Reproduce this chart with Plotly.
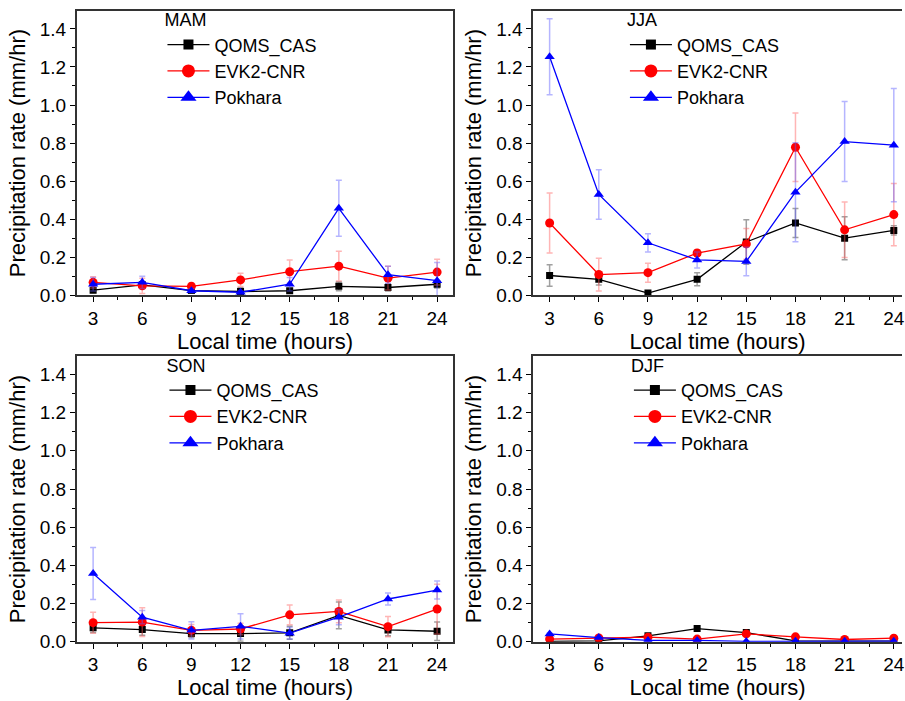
import plotly.graph_objects as go

hours = [3, 6, 9, 12, 15, 18, 21, 24]
x_ticks = [3, 6, 9, 12, 15, 18, 21, 24]
y_ticks = [0.0, 0.2, 0.4, 0.6, 0.8, 1.0, 1.2, 1.4]
y_tick_labels = ["0.0", "0.2", "0.4", "0.6", "0.8", "1.0", "1.2", "1.4"]
station_names = ["QOMS_CAS", "EVK2-CNR", "Pokhara"]
seasons = ["MAM", "JJA", "SON", "DJF"]

# MAM
mam_qoms = [0.027, 0.055, 0.025, 0.020, 0.024, 0.047, 0.041, 0.058]
mam_qoms_err = [0.012, 0.015, 0.010, 0.020, 0.010, 0.023, 0.018, 0.020]
mam_evk2 = [0.068, 0.050, 0.047, 0.081, 0.124, 0.153, 0.090, 0.122]
mam_evk2_err = [0.030, 0.040, 0.018, 0.035, 0.062, 0.078, 0.062, 0.068]
mam_pokh = [0.058, 0.068, 0.024, 0.016, 0.058, 0.457, 0.108, 0.077]
mam_pokh_err = [0.035, 0.032, 0.010, 0.008, 0.035, 0.147, 0.045, 0.095]

# JJA
jja_qoms = [0.104, 0.084, 0.012, 0.084, 0.280, 0.380, 0.300, 0.341]
jja_qoms_err = [0.056, 0.030, 0.008, 0.034, 0.117, 0.076, 0.113, 0.024]
jja_evk2 = [0.380, 0.109, 0.119, 0.222, 0.270, 0.778, 0.344, 0.424]
jja_evk2_err = [0.158, 0.086, 0.050, 0.018, 0.081, 0.180, 0.146, 0.164]
jja_pokh = [1.254, 0.530, 0.276, 0.186, 0.178, 0.542, 0.808, 0.789]
jja_pokh_err = [0.200, 0.130, 0.048, 0.042, 0.075, 0.260, 0.210, 0.298]

# SON
son_qoms = [0.073, 0.064, 0.043, 0.043, 0.047, 0.138, 0.062, 0.055]
son_qoms_err = [0.025, 0.030, 0.020, 0.040, 0.034, 0.070, 0.030, 0.048]
son_evk2 = [0.100, 0.103, 0.060, 0.067, 0.141, 0.159, 0.079, 0.171]
son_evk2_err = [0.055, 0.075, 0.030, 0.030, 0.052, 0.060, 0.053, 0.130]
son_pokh = [0.358, 0.129, 0.060, 0.081, 0.045, 0.129, 0.224, 0.271]
son_pokh_err = [0.136, 0.035, 0.045, 0.066, 0.030, 0.040, 0.032, 0.047]

# DJF
djf_qoms = [0.002, 0.005, 0.031, 0.069, 0.048, 0.005, 0.003, 0.003]
djf_qoms_err = [0.002, 0.003, 0.006, 0.006, 0.006, 0.003, 0.002, 0.002]
djf_evk2 = [0.014, 0.020, 0.024, 0.014, 0.041, 0.026, 0.012, 0.019]
djf_evk2_err = [0.004, 0.004, 0.004, 0.004, 0.006, 0.004, 0.003, 0.003]
djf_pokh = [0.041, 0.022, 0.007, 0.007, 0.002, 0.003, 0.003, 0.003]
djf_pokh_err = [0.005, 0.004, 0.003, 0.003, 0.002, 0.002, 0.002, 0.002]

season_data = [
    [(mam_qoms, mam_qoms_err), (mam_evk2, mam_evk2_err), (mam_pokh, mam_pokh_err)],
    [(jja_qoms, jja_qoms_err), (jja_evk2, jja_evk2_err), (jja_pokh, jja_pokh_err)],
    [(son_qoms, son_qoms_err), (son_evk2, son_evk2_err), (son_pokh, son_pokh_err)],
    [(djf_qoms, djf_qoms_err), (djf_evk2, djf_evk2_err), (djf_pokh, djf_pokh_err)],
]

W, H = 905, 701
FONT = "Arial, Liberation Sans, sans-serif"

styles = [
    dict(color="#000000", err="rgba(120,120,120,0.7)", symbol="square", size=7, lsize=10),
    dict(color="#ff0000", err="rgba(255,90,90,0.45)", symbol="circle", size=9, lsize=13),
    dict(color="#0000ff", err="rgba(90,90,255,0.45)", symbol="triangle-up", size=9, lsize=14),
]

# panel plot-area boxes in pixels (left, right, top, bottom)
boxes = [
    (77, 455, 11, 300),
    (535, 905, 11, 300),
    (77, 455, 362, 652),
    (535, 905, 362, 652),
]
x_ranges = [[2, 25], [2, 24.5], [2, 25], [2, 24.5]]
legend_pos = [(163, 3), (627, 3), (165, 354), (631, 354)]

fig = go.Figure()
layout = {}
for i, season in enumerate(seasons):
    sfx = "" if i == 0 else str(i + 1)
    xa, ya = "x" + sfx, "y" + sfx
    lg = "legend" + sfx
    for j, (vals, errs) in enumerate(season_data[i]):
        st = styles[j]
        fig.add_trace(go.Scatter(
            x=hours, y=vals, name=station_names[j], mode="lines+markers",
            line=dict(color=st["color"], width=1.3),
            marker=dict(symbol=st["symbol"], size=st["size"], color=st["color"]),
            error_y=dict(type="data", array=errs, visible=True,
                         color=st["err"], thickness=1.5, width=3),
            xaxis=xa, yaxis=ya, showlegend=False,
        ))
    for j in range(3):
        st = styles[j]
        fig.add_trace(go.Scatter(
            x=[None], y=[None], name=station_names[j], mode="lines+markers",
            line=dict(color=st["color"], width=1.3),
            marker=dict(symbol=st["symbol"], size=st["lsize"], color=st["color"]),
            xaxis=xa, yaxis=ya, legend=lg, showlegend=True, hoverinfo="skip",
        ))
    l, r, t, b = boxes[i]
    right_panel = i in (1, 3)
    layout["xaxis" + sfx] = dict(
        domain=[l / W, r / W], anchor=ya, range=x_ranges[i],
        tickmode="array", tickvals=x_ticks, ticktext=[str(v) for v in x_ticks],
        ticks="outside", ticklen=5, tickwidth=1.3, tickcolor="#000",
        minor=dict(dtick=1.5, tick0=0, ticks="outside", ticklen=3, tickwidth=1.2, tickcolor="#000"),
        showline=True, linecolor="#333", linewidth=1.6, mirror=True,
        showgrid=False, zeroline=False, ticklabeloverflow="allow",
        tickfont=dict(family=FONT, size=19, color="#000"),
        title=dict(text="Local time (hours)", font=dict(family=FONT, size=22, color="#000"), standoff=3),
    )
    layout["yaxis" + sfx] = dict(
        domain=[1 - b / H, 1 - t / H], anchor=xa, range=[0, 1.495],
        tickmode="array", tickvals=y_ticks, ticktext=y_tick_labels,
        ticks="outside", ticklen=5, tickwidth=1.3, tickcolor="#000",
        minor=dict(dtick=0.1, tick0=0, ticks="outside", ticklen=3, tickwidth=1.2, tickcolor="#000"),
        showline=True, linecolor="#333", linewidth=1.6, mirror=(not right_panel),
        showgrid=False, zeroline=False,
        tickfont=dict(family=FONT, size=19, color="#000"),
        title=dict(text="Precipitation rate (mm/hr)", font=dict(family=FONT, size=22, color="#000"), standoff=8),
    )
    lx, ly = legend_pos[i]
    layout[lg] = dict(
        x=lx / W, y=1 - ly / H, xanchor="left", yanchor="top", xref="paper", yref="paper",
        bgcolor="rgba(0,0,0,0)", borderwidth=0,
        title=dict(text=season, font=dict(family=FONT, size=18, color="#000")),
        font=dict(family=FONT, size=18, color="#000"),
        tracegroupgap=0, itemsizing="trace", itemwidth=42,
    )

fig.update_layout(
    width=W, height=H, margin=dict(l=0, r=0, t=0, b=0),
    paper_bgcolor="white", plot_bgcolor="white",
    **layout,
)
fig.write_html(
    "out.html",
    config={"displayModeBar": False},
    post_script="document.body.style.margin='0px';document.body.style.overflow='hidden';",
)
